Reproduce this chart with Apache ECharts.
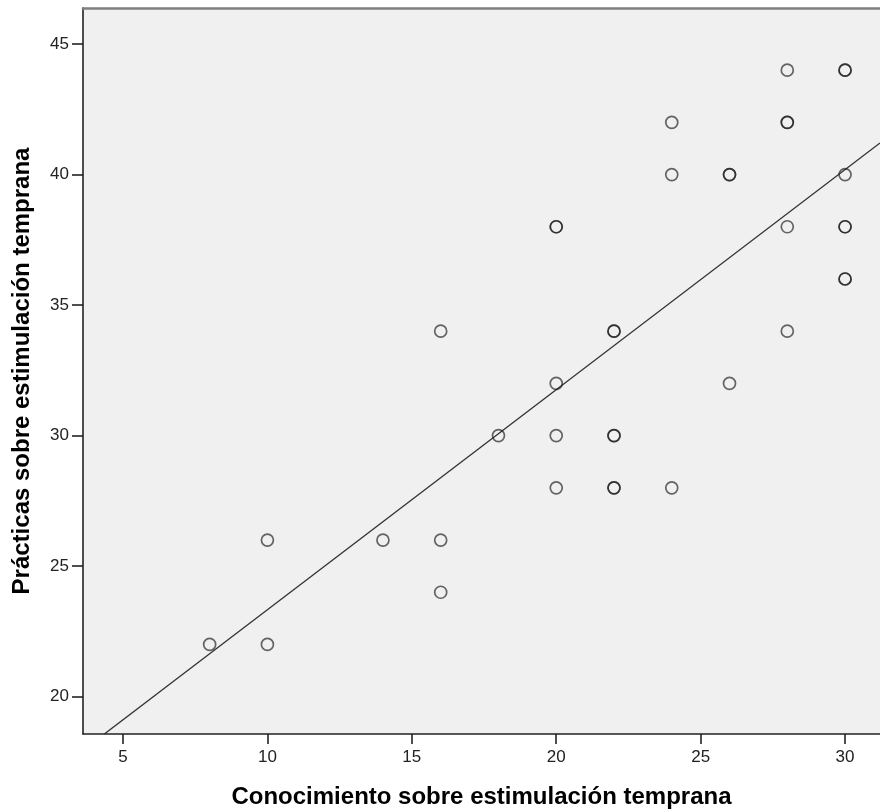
<!DOCTYPE html>
<html>
<head>
<meta charset="utf-8">
<script src="https://cdn.jsdelivr.net/npm/echarts@6/dist/echarts.min.js"></script>
<style>html,body{margin:0;padding:0;background:#fff}#c{width:880px;height:809px}</style>
</head>
<body>
<div id="c"></div>
<script>
// Data (duplicates where circles look darker)
const xValues = [8, 10, 10, 14, 16, 16, 16, 18, 20, 20, 20, 20, 20, 22, 22, 22, 22, 22, 22, 24, 24, 24, 26, 26, 26, 28, 28, 28, 28, 28, 30, 30, 30, 30, 30, 30, 30];
const yValues = [22, 26, 22, 26, 34, 26, 24, 30, 38, 38, 32, 30, 28, 34, 34, 30, 30, 28, 28, 42, 40, 28, 40, 40, 32, 44, 42, 42, 38, 34, 44, 44, 40, 38, 38, 36, 36];
const xTicks = [5, 10, 15, 20, 25, 30];
const yTicks = [20, 25, 30, 35, 40, 45];
const fitIntercept = 14.9;
const fitSlope = 0.843;
const xTitle = 'Conocimiento sobre estimulación temprana';
const yTitle = 'Prácticas sobre estimulación temprana';

const xMin = 3.615, xMax = 31.21, yMin = 18.57, yMax = 46.38;
const points = xValues.map((x, i) => [x, yValues[i]]);
const x0 = (yMin - fitIntercept) / fitSlope;
const fitLine = [[x0, fitIntercept + fitSlope * x0], [xMax, fitIntercept + fitSlope * xMax]];

const font = 'Liberation Sans, Arial, sans-serif';
const chart = echarts.init(document.getElementById('c'), null, {renderer: 'canvas'});
chart.setOption({
  animation: false,
  grid: {left: 83, right: 0, top: 8, bottom: 75, show: true, backgroundColor: '#f0f0f0', borderWidth: 0,
         containLabel: false, outerBoundsMode: 'none'},
  xAxis: [{
    type: 'value', min: xMin, max: xMax, position: 'bottom',
    name: xTitle, nameLocation: 'middle', nameGap: 51,
    nameTextStyle: {fontFamily: font, fontSize: 24, fontWeight: 'bold', color: '#000'},
    axisLine: {show: true, onZero: false, lineStyle: {color: '#222', width: 1.6}},
    axisTick: {show: true, customValues: xTicks, length: 10, lineStyle: {color: '#222', width: 1.6}},
    axisLabel: {customValues: xTicks, fontFamily: font, fontSize: 17, color: '#222', margin: 15},
    splitLine: {show: false}
  }, {
    type: 'value', min: xMin, max: xMax, position: 'top',
    axisLine: {show: true, lineStyle: {color: '#808080', width: 2.5}},
    axisTick: {show: false}, axisLabel: {show: false}, splitLine: {show: false}
  }],
  yAxis: {
    type: 'value', min: yMin, max: yMax,
    name: yTitle, nameLocation: 'middle', nameGap: 49, nameRotate: 90,
    nameTextStyle: {fontFamily: font, fontSize: 24, fontWeight: 'bold', color: '#000'},
    axisLine: {show: true, onZero: false, lineStyle: {color: '#222', width: 1.6}},
    axisTick: {show: true, customValues: yTicks, length: 11, lineStyle: {color: '#222', width: 1.6}},
    axisLabel: {customValues: yTicks, fontFamily: font, fontSize: 17, color: '#222', margin: 14},
    splitLine: {show: false}
  },
  series: [{
    type: 'line', data: fitLine, symbol: 'none', silent: true,
    lineStyle: {color: '#333', width: 1.4}, clip: true, z: 2
  }, {
    type: 'scatter', data: points, symbol: 'circle', symbolSize: 12,
    itemStyle: {color: 'rgba(0,0,0,0)', borderColor: 'rgba(25,25,25,0.82)', borderWidth: 1.7},
    z: 3
  }]
});
</script>
</body>
</html>
